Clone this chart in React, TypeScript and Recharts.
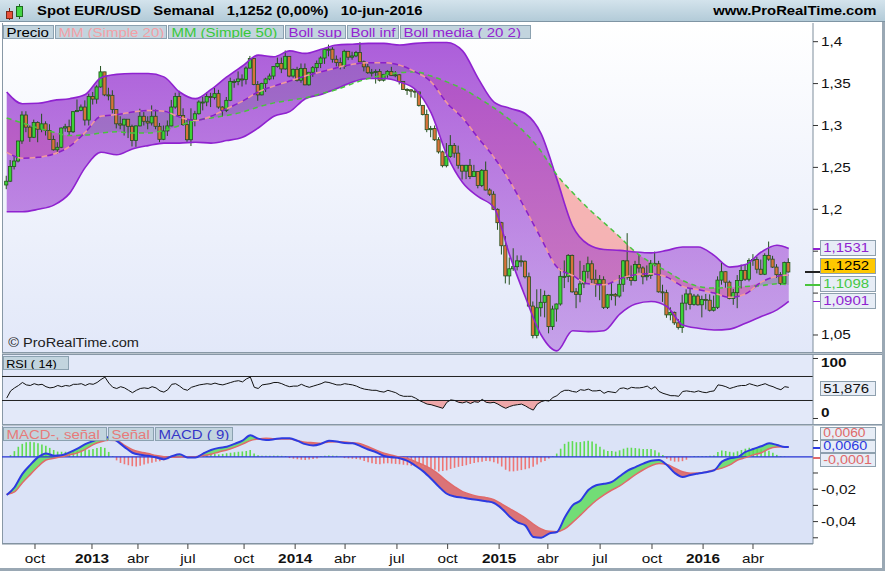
import React from "react";
import { Area, Bar, Cell, ComposedChart, Line, ReferenceLine, XAxis, YAxis } from "recharts";

const FONT = "'Liberation Sans', Arial, Helvetica, sans-serif";

// weekly candles, week 0 = 17-ago-2012 ... week 199 = 10-jun-2016
const opens = [
  1.2290, 1.2335, 1.2510, 1.2576, 1.2815, 1.3125, 1.2980, 1.2859, 1.3036, 1.2955,
  1.3020, 1.2940, 1.2834, 1.2710, 1.2740, 1.2970, 1.2985, 1.2925, 1.3165, 1.3180,
  1.3220, 1.3065, 1.3345, 1.3315, 1.3460, 1.3640, 1.3365, 1.3360, 1.3190, 1.3020,
  1.3005, 1.3075, 1.2990, 1.2820, 1.2995, 1.3110, 1.3050, 1.3030, 1.3110, 1.2990,
  1.2835, 1.2935, 1.2995, 1.3220, 1.3345, 1.3120, 1.3010, 1.2830, 1.3070, 1.3140,
  1.3280, 1.3280, 1.3345, 1.3335, 1.3380, 1.3220, 1.3180, 1.3300, 1.3525, 1.3525,
  1.3555, 1.3550, 1.3685, 1.3800, 1.3490, 1.3365, 1.3500, 1.3555, 1.3590, 1.3705,
  1.3740, 1.3675, 1.3825, 1.3590, 1.3670, 1.3540, 1.3680, 1.3485, 1.3635, 1.3690,
  1.3740, 1.3805, 1.3910, 1.3910, 1.3790, 1.3750, 1.3705, 1.3885, 1.3815, 1.3830,
  1.3870, 1.3760, 1.3700, 1.3630, 1.3635, 1.3645, 1.3540, 1.3610, 1.3645, 1.3595,
  1.3605, 1.3525, 1.3430, 1.3425, 1.3410, 1.3400, 1.3240, 1.3130, 1.2950, 1.2965,
  1.2830, 1.2685, 1.2520, 1.2630, 1.2760, 1.2670, 1.2525, 1.2455, 1.2525, 1.2390,
  1.2450, 1.2285, 1.2465, 1.2230, 1.2180, 1.2000, 1.1840, 1.1565, 1.1205, 1.1290,
  1.1315, 1.1385, 1.1380, 1.1195, 1.0845, 1.0495, 1.0825, 1.0890, 1.0970, 1.0600,
  1.0810, 1.0870, 1.1200, 1.1200, 1.1450, 1.1015, 1.0985, 1.1110, 1.1260, 1.1350,
  1.1165, 1.1110, 1.1160, 1.0830, 1.0980, 1.0985, 1.0965, 1.1105, 1.1385, 1.1185,
  1.1150, 1.1340, 1.1300, 1.1195, 1.1210, 1.1355, 1.1350, 1.1015, 1.1005, 1.0740,
  1.0770, 1.0645, 1.0590, 1.0880, 1.0990, 1.0865, 1.0965, 1.0860, 1.0925, 1.0915,
  1.0795, 1.0830, 1.1155, 1.1255, 1.1130, 1.0935, 1.1005, 1.1150, 1.1270, 1.1165,
  1.1390, 1.1400, 1.1285, 1.1225, 1.1450, 1.1405, 1.1310, 1.1220, 1.1115, 1.1365,
];
const highs = [
  1.2400, 1.2588, 1.2637, 1.2817, 1.3170, 1.3170, 1.3000, 1.3070, 1.3050, 1.3140,
  1.3050, 1.3015, 1.2880, 1.2800, 1.2975, 1.3020, 1.3070, 1.3170, 1.3310, 1.3250,
  1.3300, 1.3380, 1.3400, 1.3480, 1.3710, 1.3640, 1.3450, 1.3420, 1.3190, 1.3110,
  1.3080, 1.3075, 1.3010, 1.3000, 1.3200, 1.3160, 1.3110, 1.3240, 1.3190, 1.3030,
  1.3000, 1.3060, 1.3305, 1.3390, 1.3415, 1.3205, 1.3080, 1.3205, 1.3175, 1.3300,
  1.3345, 1.3400, 1.3390, 1.3450, 1.3425, 1.3230, 1.3340, 1.3570, 1.3550, 1.3645,
  1.3610, 1.3705, 1.3830, 1.3800, 1.3530, 1.3510, 1.3570, 1.3620, 1.3710, 1.3810,
  1.3810, 1.3895, 1.3825, 1.3680, 1.3700, 1.3740, 1.3740, 1.3640, 1.3710, 1.3775,
  1.3825, 1.3920, 1.3965, 1.3935, 1.3835, 1.3810, 1.3905, 1.3890, 1.3880, 1.3890,
  1.3995, 1.3775, 1.3735, 1.3675, 1.3670, 1.3675, 1.3615, 1.3660, 1.3700, 1.3650,
  1.3615, 1.3530, 1.3445, 1.3435, 1.3435, 1.3400, 1.3245, 1.3190, 1.2995, 1.3000,
  1.2860, 1.2700, 1.2790, 1.2885, 1.2790, 1.2760, 1.2530, 1.2530, 1.2600, 1.2530,
  1.2455, 1.2480, 1.2570, 1.2250, 1.2215, 1.2010, 1.1850, 1.1680, 1.1425, 1.1535,
  1.1450, 1.1450, 1.1390, 1.1245, 1.0900, 1.1045, 1.1050, 1.1030, 1.0980, 1.0850,
  1.0875, 1.1290, 1.1390, 1.1465, 1.1460, 1.1060, 1.1385, 1.1335, 1.1435, 1.1390,
  1.1280, 1.1215, 1.1200, 1.0990, 1.1130, 1.1000, 1.1215, 1.1395, 1.1715, 1.1330,
  1.1385, 1.1460, 1.1320, 1.1330, 1.1395, 1.1495, 1.1385, 1.1100, 1.1040, 1.0830,
  1.0780, 1.0690, 1.0980, 1.1045, 1.1060, 1.0990, 1.0990, 1.0970, 1.0990, 1.0985,
  1.0970, 1.1200, 1.1375, 1.1260, 1.1150, 1.1050, 1.1215, 1.1340, 1.1340, 1.1415,
  1.1465, 1.1435, 1.1400, 1.1475, 1.1615, 1.1445, 1.1345, 1.1250, 1.1375, 1.1415,
];
const lows = [
  1.2240, 1.2325, 1.2475, 1.2560, 1.2780, 1.2920, 1.2805, 1.2850, 1.2800, 1.2920,
  1.2880, 1.2830, 1.2700, 1.2660, 1.2730, 1.2925, 1.2880, 1.2910, 1.3160, 1.3170,
  1.3000, 1.3000, 1.3250, 1.3260, 1.3450, 1.3350, 1.3300, 1.3145, 1.2965, 1.2955,
  1.2880, 1.2850, 1.2750, 1.2745, 1.2990, 1.3000, 1.2955, 1.3000, 1.2955, 1.2800,
  1.2825, 1.2875, 1.2990, 1.3200, 1.3115, 1.2995, 1.2805, 1.2755, 1.2990, 1.3130,
  1.3180, 1.3230, 1.3220, 1.3310, 1.3200, 1.3105, 1.3160, 1.3290, 1.3450, 1.3480,
  1.3465, 1.3490, 1.3680, 1.3480, 1.3295, 1.3360, 1.3400, 1.3540, 1.3550, 1.3690,
  1.3625, 1.3665, 1.3575, 1.3570, 1.3525, 1.3510, 1.3480, 1.3475, 1.3580, 1.3640,
  1.3685, 1.3735, 1.3825, 1.3750, 1.3705, 1.3670, 1.3675, 1.3780, 1.3785, 1.3815,
  1.3755, 1.3645, 1.3615, 1.3585, 1.3500, 1.3525, 1.3525, 1.3570, 1.3590, 1.3575,
  1.3490, 1.3425, 1.3365, 1.3335, 1.3330, 1.3225, 1.3120, 1.2920, 1.2860, 1.2815,
  1.2665, 1.2500, 1.2500, 1.2615, 1.2615, 1.2485, 1.2355, 1.2360, 1.2360, 1.2385,
  1.2250, 1.2265, 1.2225, 1.2160, 1.1990, 1.1755, 1.1460, 1.1115, 1.1100, 1.1265,
  1.1270, 1.1315, 1.1175, 1.0835, 1.0460, 1.0460, 1.0720, 1.0710, 1.0520, 1.0560,
  1.0660, 1.0850, 1.1060, 1.1130, 1.1005, 1.0820, 1.0890, 1.1060, 1.1175, 1.1120,
  1.0955, 1.0915, 1.0810, 1.0810, 1.0915, 1.0850, 1.0945, 1.1015, 1.1160, 1.1090,
  1.1140, 1.1245, 1.1105, 1.1150, 1.1170, 1.1320, 1.1005, 1.0895, 1.0705, 1.0675,
  1.0620, 1.0565, 1.0525, 1.0795, 1.0805, 1.0850, 1.0850, 1.0710, 1.0805, 1.0780,
  1.0780, 1.0810, 1.1100, 1.1065, 1.0925, 1.0860, 1.0820, 1.1055, 1.1145, 1.1140,
  1.1325, 1.1235, 1.1215, 1.1215, 1.1385, 1.1300, 1.1180, 1.1095, 1.1100, 1.1245,
];
const closes = [
  1.2335, 1.2510, 1.2576, 1.2815, 1.3125, 1.2980, 1.2859, 1.3036, 1.2955, 1.3020,
  1.2940, 1.2834, 1.2710, 1.2740, 1.2970, 1.2985, 1.2925, 1.3165, 1.3180, 1.3220,
  1.3065, 1.3345, 1.3315, 1.3460, 1.3640, 1.3365, 1.3360, 1.3190, 1.3020, 1.3005,
  1.3075, 1.2990, 1.2820, 1.2995, 1.3110, 1.3050, 1.3030, 1.3110, 1.2990, 1.2835,
  1.2935, 1.2995, 1.3220, 1.3345, 1.3120, 1.3010, 1.2830, 1.3070, 1.3140, 1.3280,
  1.3280, 1.3345, 1.3335, 1.3380, 1.3220, 1.3180, 1.3300, 1.3525, 1.3525, 1.3555,
  1.3550, 1.3685, 1.3800, 1.3490, 1.3365, 1.3500, 1.3555, 1.3590, 1.3705, 1.3740,
  1.3675, 1.3825, 1.3590, 1.3670, 1.3540, 1.3680, 1.3485, 1.3635, 1.3690, 1.3740,
  1.3805, 1.3910, 1.3910, 1.3790, 1.3750, 1.3705, 1.3885, 1.3815, 1.3830, 1.3870,
  1.3760, 1.3700, 1.3630, 1.3635, 1.3645, 1.3540, 1.3610, 1.3645, 1.3595, 1.3605,
  1.3525, 1.3430, 1.3425, 1.3410, 1.3400, 1.3240, 1.3130, 1.2950, 1.2965, 1.2830,
  1.2685, 1.2520, 1.2630, 1.2760, 1.2670, 1.2525, 1.2455, 1.2525, 1.2390, 1.2450,
  1.2285, 1.2465, 1.2230, 1.2180, 1.2000, 1.1840, 1.1565, 1.1205, 1.1290, 1.1315,
  1.1385, 1.1380, 1.1195, 1.0845, 1.0495, 1.0825, 1.0890, 1.0970, 1.0600, 1.0810,
  1.0870, 1.1200, 1.1200, 1.1450, 1.1015, 1.0985, 1.1110, 1.1260, 1.1350, 1.1165,
  1.1110, 1.1160, 1.0830, 1.0980, 1.0985, 1.0965, 1.1105, 1.1385, 1.1185, 1.1150,
  1.1340, 1.1300, 1.1195, 1.1210, 1.1355, 1.1350, 1.1015, 1.1005, 1.0740, 1.0770,
  1.0645, 1.0590, 1.0880, 1.0990, 1.0865, 1.0965, 1.0860, 1.0925, 1.0915, 1.0795,
  1.0830, 1.1155, 1.1255, 1.1130, 1.0935, 1.1005, 1.1150, 1.1270, 1.1165, 1.1390,
  1.1400, 1.1285, 1.1225, 1.1450, 1.1405, 1.1310, 1.1220, 1.1115, 1.1365, 1.1252,
];

// Bollinger (20,2) and moving averages, read every 4 weeks
const bandWeeks = [
  0, 4, 8, 12, 16, 20, 24, 28, 32, 36, 40, 44, 48, 52, 56, 60, 64, 68, 72, 76,
  80, 84, 88, 92, 96, 100, 104, 108, 112, 116, 120, 124, 128, 132, 136, 140, 144, 148, 152, 156,
  160, 164, 168, 172, 176, 180, 184, 188, 192, 196, 199,
];
const bollUpper = [
  1.340, 1.326, 1.3265, 1.330, 1.332, 1.337, 1.357, 1.361, 1.362, 1.362, 1.358, 1.340, 1.332, 1.343, 1.358, 1.371, 1.384, 1.382, 1.389, 1.386,
  1.391, 1.396, 1.397, 1.398, 1.398, 1.396, 1.398, 1.399, 1.399, 1.389, 1.356, 1.328, 1.3205, 1.314, 1.290, 1.236, 1.180, 1.158, 1.152, 1.151,
  1.149, 1.148, 1.151, 1.155, 1.155, 1.145, 1.131, 1.134, 1.149, 1.157, 1.1531,
];
const bollLower = [
  1.197, 1.197, 1.200, 1.205, 1.219, 1.250, 1.268, 1.265, 1.272, 1.276, 1.279, 1.279, 1.280, 1.279, 1.282, 1.286, 1.297, 1.311, 1.3165, 1.332,
  1.337, 1.344, 1.352, 1.356, 1.356, 1.352, 1.343, 1.315, 1.265, 1.232, 1.215, 1.202, 1.145, 1.095, 1.050, 1.031, 1.055, 1.054, 1.055, 1.075,
  1.087, 1.090, 1.084, 1.062, 1.058, 1.056, 1.057, 1.064, 1.072, 1.080, 1.0901,
];
const ma20 = [
  1.268, 1.261, 1.262, 1.266, 1.275, 1.292, 1.311, 1.313, 1.316, 1.318, 1.317, 1.310, 1.306, 1.311, 1.320, 1.329, 1.340, 1.347, 1.353, 1.359,
  1.364, 1.369, 1.373, 1.375, 1.375, 1.372, 1.364, 1.352, 1.327, 1.309, 1.285, 1.262, 1.2335, 1.200, 1.165, 1.131, 1.121, 1.111, 1.110, 1.117,
  1.122, 1.123, 1.119, 1.108, 1.104, 1.100, 1.095, 1.099, 1.113, 1.120, 1.1216,
];
const ma50 = [
  1.309, 1.303, 1.297, 1.292, 1.288, 1.2885, 1.291, 1.2925, 1.291, 1.291, 1.294, 1.300, 1.306, 1.309, 1.312, 1.316, 1.322, 1.327, 1.330, 1.333,
  1.338, 1.343, 1.350, 1.356, 1.360, 1.363, 1.364, 1.359, 1.352, 1.344, 1.333, 1.321, 1.307, 1.291, 1.269, 1.241, 1.220, 1.201, 1.184, 1.167,
  1.149, 1.136, 1.126, 1.115, 1.108, 1.106, 1.107, 1.108, 1.109, 1.111, 1.1098,
];

// RSI (14), one value per week
const rsiValues = [
  34, 46, 51, 55, 60, 56, 55, 58, 56, 57, 53, 51, 52, 55, 53, 55, 54, 57, 57, 58,
  55, 58, 57, 60, 65, 69, 59, 52, 50, 53, 51, 47, 43, 47, 50, 51, 50, 53, 51, 46,
  44, 48, 57, 58, 54, 49, 47, 52, 54, 56, 57, 58, 57, 59, 57, 56, 58, 60, 62, 63,
  61, 66, 69, 52, 50, 56, 57, 58, 60, 60, 58, 55, 53, 54, 54, 57, 54, 52, 54, 56,
  58, 61, 60, 58, 56, 56, 58, 57, 56, 54, 51, 49, 48, 47, 47, 45, 44, 47, 45, 43,
  39, 37, 37, 37, 34, 30, 27, 24, 23, 21, 19, 17, 27, 31, 30, 27, 26, 28, 25, 28,
  27, 32, 27, 26, 27, 24, 20, 17, 20, 22, 23, 24, 21, 17, 14, 24, 28, 30, 29, 35,
  38, 44, 47, 47, 45, 44, 48, 47, 49, 46, 46, 47, 42, 45, 44, 43, 50, 51, 49, 52,
  51, 51, 52, 54, 49, 53, 45, 42, 40, 38, 38, 37, 45, 46, 45, 44, 46, 44, 43, 45,
  46, 56, 55, 53, 50, 52, 54, 55, 55, 58, 56, 54, 56, 58, 55, 53, 50, 48, 53, 51.876,
];

// MACD and signal, read every 2 weeks
const macdWeeks = [
  0, 2, 4, 6, 8, 10, 12, 14, 16, 18, 20, 22, 24, 26, 28, 30, 32, 34, 36, 38,
  40, 42, 44, 46, 48, 50, 52, 54, 56, 58, 60, 62, 64, 66, 68, 70, 72, 74, 76, 78,
  80, 82, 84, 86, 88, 90, 92, 94, 96, 98, 100, 102, 104, 106, 108, 110, 112, 114, 116, 118,
  120, 122, 124, 126, 128, 130, 132, 134, 136, 138, 140, 142, 144, 146, 148, 150, 152, 154, 156, 158,
  160, 162, 164, 166, 168, 170, 172, 174, 176, 178, 180, 182, 184, 186, 188, 190, 192, 194, 196, 198, 199,
];
const macdLine = [
  -0.0236, -0.0188, -0.0105, -0.0050, -0.0002, 0.0021, 0.0007, 0.0010, 0.0027, 0.0050,
  0.0078, 0.0097, 0.0115, 0.0120, 0.0098, 0.0060, 0.0025, 0.0012, 0.0006, -0.0004,
  -0.0015, 0.0003, 0.0015, -0.0004, -0.0005, 0.0020, 0.0042, 0.0055, 0.0062, 0.0080,
  0.0100, 0.0133, 0.0112, 0.0104, 0.0108, 0.0115, 0.0114, 0.0098, 0.0078, 0.0070,
  0.0080, 0.0099, 0.0095, 0.0085, 0.0083, 0.0066, 0.0045, 0.0028, 0.0005, -0.0003,
  -0.0009, -0.0025, -0.0055, -0.0090, -0.0135, -0.0185, -0.0228, -0.0245, -0.0252, -0.0260,
  -0.0266, -0.0274, -0.0285, -0.0320, -0.0370, -0.0405, -0.0425, -0.0495, -0.0500, -0.0474,
  -0.0464, -0.0375, -0.0300, -0.0270, -0.0205, -0.0176, -0.0167, -0.0155, -0.0120, -0.0085,
  -0.0064, -0.0042, -0.0024, -0.0020, -0.0051, -0.0100, -0.0125, -0.0112, -0.0103, -0.0095,
  -0.0084, -0.0030, -0.0009, -0.0002, 0.0030, 0.0048, 0.0065, 0.0083, 0.0073, 0.0060, 0.0060,
];
const signalLine = [
  -0.0230, -0.0216, -0.0160, -0.0110, -0.0060, -0.0020, -0.0009, 0.0000, 0.0012, 0.0024,
  0.0046, 0.0075, 0.0093, 0.0102, 0.0100, 0.0070, 0.0044, 0.0030, 0.0020, 0.0008,
  0.0001, -0.0003, -0.0001, 0.0001, 0.0001, 0.0008, 0.0016, 0.0030, 0.0042, 0.0058,
  0.0078, 0.0100, 0.0110, 0.0114, 0.0111, 0.0110, 0.0110, 0.0100, 0.0090, 0.0087,
  0.0084, 0.0092, 0.0093, 0.0091, 0.0086, 0.0080, 0.0062, 0.0040, 0.0022, 0.0010,
  -0.0003, -0.0010, -0.0030, -0.0050, -0.0075, -0.0110, -0.0150, -0.0185, -0.0215, -0.0232,
  -0.0245, -0.0252, -0.0265, -0.0292, -0.0320, -0.0348, -0.0378, -0.0415, -0.0445, -0.0460,
  -0.0462, -0.0445, -0.0405, -0.0360, -0.0313, -0.0270, -0.0235, -0.0205, -0.0180, -0.0145,
  -0.0110, -0.0080, -0.0055, -0.0042, -0.0048, -0.0070, -0.0092, -0.0101, -0.0100, -0.0093,
  -0.0080, -0.0070, -0.0050, -0.0020, -0.0005, 0.0012, 0.0025, 0.0050, 0.0060, 0.0062, 0.0060,
];
// "MACD-, señal" histogram, one bar per week
const histogram = [
  0.0000, 0.0010, 0.0035, 0.0062, 0.0080, 0.0090, 0.0093, 0.0090, 0.0083, 0.0076,
  0.0068, 0.0055, 0.0042, 0.0032, 0.0031, 0.0031, 0.0031, 0.0034, 0.0036, 0.0040,
  0.0042, 0.0044, 0.0048, 0.0054, 0.0060, 0.0055, 0.0030, 0.0005, -0.0022, -0.0038,
  -0.0046, -0.0052, -0.0058, -0.0060, -0.0055, -0.0047, -0.0042, -0.0036, -0.0031, -0.0027,
  -0.0022, -0.0015, -0.0004, 0.0003, 0.0005, -0.0003, -0.0004, -0.0002, 0.0004, 0.0007,
  0.0009, 0.0012, 0.0020, 0.0019, 0.0015, 0.0018, 0.0022, 0.0025, 0.0028, 0.0031,
  0.0033, 0.0036, 0.0042, 0.0020, 0.0009, 0.0007, 0.0007, 0.0006, 0.0007, 0.0007,
  0.0006, 0.0005, -0.0008, -0.0012, -0.0015, -0.0018, -0.0020, -0.0017, -0.0013, -0.0010,
  0.0005, 0.0007, 0.0008, 0.0007, 0.0006, 0.0002, -0.0008, -0.0010, -0.0012, -0.0014,
  -0.0017, -0.0026, -0.0033, -0.0040, -0.0044, -0.0046, -0.0042, -0.0040, -0.0042, -0.0044,
  -0.0046, -0.0049, -0.0052, -0.0055, -0.0058, -0.0061, -0.0064, -0.0067, -0.0072, -0.0080,
  -0.0090, -0.0088, -0.0084, -0.0075, -0.0068, -0.0062, -0.0057, -0.0052, -0.0044, -0.0038,
  -0.0034, -0.0030, -0.0026, -0.0028, -0.0033, -0.0042, -0.0060, -0.0080, -0.0090, -0.0090,
  -0.0086, -0.0082, -0.0077, -0.0071, -0.0061, -0.0048, -0.0034, -0.0026, -0.0010, 0.0004,
  0.0020, 0.0050, 0.0080, 0.0093, 0.0097, 0.0090, 0.0091, 0.0096, 0.0099, 0.0094,
  0.0080, 0.0062, 0.0045, 0.0036, 0.0036, 0.0032, 0.0040, 0.0050, 0.0056, 0.0056,
  0.0054, 0.0051, 0.0048, 0.0048, 0.0048, 0.0040, 0.0026, 0.0011, -0.0012, -0.0024,
  -0.0030, -0.0030, -0.0027, -0.0018, -0.0002, 0.0005, 0.0005, 0.0005, 0.0005, 0.0006,
  0.0008, 0.0030, 0.0039, 0.0036, 0.0031, 0.0027, 0.0034, 0.0042, 0.0050, 0.0056,
  0.0053, 0.0049, 0.0046, 0.0044, 0.0037, 0.0025, 0.0012, 0.0005, 0.0003, -0.0001,
];

// time axis (tick position in weeks)
const tickWeeks = [7.2, 21.7, 33.4, 46.1, 60.4, 73.4, 86.1, 99.3, 112.2, 125.3, 137.7, 151.0, 164.2, 177.2, 189.9];
const tickLabels = ["oct", "2013", "abr", "jul", "oct", "2014", "abr", "jul", "oct", "2015", "abr", "jul", "oct", "2016", "abr"];

const priceTicks = [1.05, 1.1, 1.15, 1.2, 1.25, 1.3, 1.35, 1.4];
const macdTicks = [0.01, -0.01, -0.02, -0.03, -0.04, -0.05];

const X_DOMAIN = [-1.196, 205.17];
const PRICE_DOMAIN = [1.0297, 1.4223];
const RSI_DOMAIN = [-9.17, 105.83];
const MACD_DOMAIN = [-0.05383, 0.01901];

const candleRows = closes.map((c, i) => ({ week: i, open: opens[i], high: highs[i], low: lows[i], close: c }));
const bandRows = bandWeeks.map((w, k) => ({
  week: w,
  upper: bollUpper[k],
  lower: bollLower[k],
  mid: ma20[k],
  slow: ma50[k],
  band: [bollLower[k], bollUpper[k]],
  pink: ma50[k] > ma20[k] ? [ma20[k], ma50[k]] : [ma20[k], ma20[k]],
  green: ma20[k] > ma50[k] ? [ma50[k], ma20[k]] : [ma20[k], ma20[k]],
}));
const rsiRows = rsiValues.map((v, i) => ({ week: i, rsi: v, under: v < 30 ? [v, 30] : [30, 30] }));
const macdRows = macdWeeks.map((w, k) => {
  const m = macdLine[k];
  const s = signalLine[k];
  return { week: w, macd: m, signal: s, up: m > s ? [s, m] : [s, s], down: m < s ? [m, s] : [s, s] };
});
const histRows = histogram.map((h, i) => ({ week: i, hist: h }));

const comma = (v: number) => String(v).replace(".", ",");

const Candle = (props: any) => {
  const { x, y, width, height, payload } = props;
  if (!payload || height == null) return null;
  const { open, close, high, low } = payload;
  const top = Math.min(y, y + height);
  const h = Math.abs(height);
  const k = high - low > 0 ? h / (high - low) : 0;
  const yO = top + (high - open) * k;
  const yC = top + (high - close) * k;
  const cx = x + width / 2;
  const up = close >= open;
  return (
    <g>
      <line x1={cx} x2={cx} y1={top} y2={top + h} stroke="#24501e" strokeWidth={1} />
      <rect
        x={cx - 1.6}
        y={Math.min(yO, yC)}
        width={3.2}
        height={Math.max(1, Math.abs(yC - yO))}
        fill={up ? "#3ad436" : "#d8723a"}
        stroke="#24501e"
        strokeWidth={0.8}
      />
    </g>
  );
};

const AxisText = ({ x, y, text, bold, anchor }: any) => (
  <g transform={`translate(${x},${y}) scale(1.18,1)`}>
    <text x={0} y={0} textAnchor={anchor || "start"} fontFamily={FONT} fontSize={13} fontWeight={bold ? 700 : 400} fill="#111">
      {text}
    </text>
  </g>
);

// 1,1 and 1,15 sit behind the last-value boxes
const PriceTick = (props: any) => {
  const { x, y, payload } = props;
  if (payload.value === 1.1 || payload.value === 1.15) return null;
  return <AxisText x={x + 1} y={y + 4.5} text={comma(payload.value)} />;
};

const RsiTick = (props: any) => {
  const { x, y, payload } = props;
  const dy = payload.value === 100 ? 9 : -1;
  return <AxisText x={x + 1} y={y + dy} text={String(payload.value)} bold />;
};

const MacdTick = (props: any) => {
  const { x, y, payload } = props;
  if (payload.value !== -0.02 && payload.value !== -0.04) return null;
  return <AxisText x={x + 1} y={y + 4.5} text={comma(payload.value)} />;
};

const TimeTick = (props: any) => {
  const { x, y, payload } = props;
  const idx = tickWeeks.indexOf(payload.value);
  const label = tickLabels[idx] || "";
  const bold = /^\d+$/.test(label);
  return <AxisText x={x} y={y + 12} text={label} bold={bold} anchor="middle" />;
};

const box = (extra: React.CSSProperties): React.CSSProperties => ({
  position: "absolute",
  height: 14,
  lineHeight: "14px",
  background: "#c2d4de",
  border: "1px solid #8ba1b0",
  fontFamily: FONT,
  fontSize: 12.5,
  whiteSpace: "nowrap",
  overflow: "hidden",
  boxSizing: "border-box",
  ...extra,
});

const Stretch = ({ children, s = 1.2 }: any) => (
  <span style={{ display: "inline-block", transform: `scaleX(${s})`, transformOrigin: "left center", paddingLeft: 2 }}>
    {children}
  </span>
);

const ValueBox = ({ top, text, color, bg, h = 16, fs = 13 }: any) => (
  <div
    style={{
      position: "absolute",
      left: 820,
      top,
      width: 56,
      height: h,
      lineHeight: `${h - 2}px`,
      background: bg || "#e7edf6",
      border: "1px solid #8ea0ae",
      boxSizing: "border-box",
      fontFamily: FONT,
      fontSize: fs,
      color,
      overflow: "hidden",
      whiteSpace: "nowrap",
    }}
  >
    <Stretch s={1.15}>{text}</Stretch>
  </div>
);

const stub = (top: number, color: string, left = 813, width = 8): React.CSSProperties => ({
  position: "absolute",
  left,
  top,
  width,
  height: 1.5,
  background: color,
});

export default function App() {
  return (
    <div style={{ position: "absolute", left: 0, top: 0, width: 885, height: 571, background: "#fff", overflow: "hidden", fontFamily: FONT }}>
      {/* header */}
      <div
        style={{
          position: "absolute", left: 0, top: 0, width: 885, height: 22,
          background: "linear-gradient(#d3e3ec, #b3cbd8)", borderBottom: "1px solid #7f95a4", boxSizing: "border-box",
        }}
      />
      <svg style={{ position: "absolute", left: 5, top: 4 }} width={22} height={18}>
        <line x1={4.5} x2={4.5} y1={4} y2={16} stroke="#7a2a1a" />
        <rect x={1.5} y={7.5} width={6} height={7} fill="#e8503a" stroke="#7a2a1a" />
        <line x1={14.5} x2={14.5} y1={0} y2={15} stroke="#1f6a1f" />
        <rect x={11.5} y={2.5} width={6} height={10} fill="#44d444" stroke="#1f6a1f" />
      </svg>
      <div style={{ position: "absolute", left: 37, top: 3, fontSize: 13.5, fontWeight: 700, whiteSpace: "nowrap" }}>
        <span style={{ display: "inline-block", transform: "scaleX(1.1)", transformOrigin: "left center" }}>
          Spot EUR/USD&nbsp;&nbsp;&nbsp;Semanal&nbsp;&nbsp;&nbsp;1,1252 (0,00%)&nbsp;&nbsp;&nbsp;10-jun-2016
        </span>
      </div>
      <div style={{ position: "absolute", right: 8, top: 3, fontSize: 13.5, fontWeight: 700, whiteSpace: "nowrap" }}>
        <span style={{ display: "inline-block", transform: "scaleX(1.1)", transformOrigin: "right center" }}>www.ProRealTime.com</span>
      </div>

      {/* panel backgrounds */}
      <div style={{ position: "absolute", left: 2, top: 23, width: 811, height: 329, background: "linear-gradient(#ffffff, #e2e8f9)", borderLeft: "1px solid #8898a6", boxSizing: "border-box" }} />
      <div style={{ position: "absolute", left: 2, top: 352, width: 880, height: 3, background: "#b9c3cc", borderTop: "1px solid #8898a6", borderBottom: "1px solid #8898a6", boxSizing: "border-box" }} />
      <div style={{ position: "absolute", left: 2, top: 355, width: 811, height: 69, background: "#e3e9f9", borderLeft: "1px solid #8898a6", boxSizing: "border-box" }} />
      <div style={{ position: "absolute", left: 2, top: 424, width: 880, height: 2, background: "#b9c3cc", borderTop: "1px solid #8898a6", boxSizing: "border-box" }} />
      <div style={{ position: "absolute", left: 2, top: 426, width: 811, height: 118, background: "#dbe3f7", borderLeft: "1px solid #8898a6", borderBottom: "1px solid #8898a6", boxSizing: "border-box" }} />
      <div style={{ position: "absolute", left: 882, top: 22, width: 3, height: 549, background: "#9aa8b4" }} />
      <div style={{ position: "absolute", left: 0, top: 568, width: 885, height: 3, background: "#9aa8b4" }} />

      {/* price panel */}
      <div style={{ position: "absolute", left: 2, top: 23 }}>
        <ComposedChart width={880} height={329} data={candleRows} margin={{ top: 0, right: 0, bottom: 0, left: 0 }}>
          <defs>
            <linearGradient id="bandGrad" gradientUnits="userSpaceOnUse" x1={0} y1={0} x2={0} y2={329}>
              <stop offset="0" stopColor="#9530cf" stopOpacity={0.8} />
              <stop offset="1" stopColor="#9530cf" stopOpacity={0.38} />
            </linearGradient>
          </defs>
          <XAxis type="number" dataKey="week" domain={X_DOMAIN} allowDataOverflow hide />
          <YAxis
            orientation="right" width={69} domain={PRICE_DOMAIN} allowDataOverflow ticks={priceTicks} interval={0}
            tick={<PriceTick />} tickSize={5} tickLine={{ stroke: "#333" }} axisLine={{ stroke: "#7f8e9c" }}
          />
          <Area data={bandRows} dataKey="pink" type="monotone" stroke="none" fill="#ff6e64" fillOpacity={0.47} isAnimationActive={false} activeDot={false} />
          <Area data={bandRows} dataKey="green" type="monotone" stroke="none" fill="#64e65a" fillOpacity={0.45} isAnimationActive={false} activeDot={false} />
          <Area data={bandRows} dataKey="band" type="monotone" stroke="none" fill="url(#bandGrad)" fillOpacity={1} isAnimationActive={false} activeDot={false} />
          <Line data={bandRows} dataKey="upper" type="monotone" stroke="#8f22d0" strokeWidth={1.6} dot={false} isAnimationActive={false} activeDot={false} />
          <Line data={bandRows} dataKey="lower" type="monotone" stroke="#8f22d0" strokeWidth={1.6} dot={false} isAnimationActive={false} activeDot={false} />
          <Line data={bandRows} dataKey="slow" type="monotone" stroke="#49c43d" strokeWidth={1.5} strokeDasharray="5 4" dot={false} isAnimationActive={false} activeDot={false} />
          <Line data={bandRows} dataKey="mid" type="monotone" stroke="#f29a9a" strokeWidth={1.5} strokeDasharray="6 6" dot={false} isAnimationActive={false} activeDot={false} />
          <Line data={bandRows} dataKey="mid" type="monotone" stroke="#8a20c8" strokeWidth={1.5} strokeDasharray="6 6" strokeDashoffset={6} dot={false} isAnimationActive={false} activeDot={false} />
          <Bar dataKey={(d: any) => [d.low, d.high]} barSize={3} shape={<Candle />} isAnimationActive={false} />
        </ComposedChart>
      </div>

      {/* RSI panel */}
      <div style={{ position: "absolute", left: 2, top: 355 }}>
        <ComposedChart width={880} height={69} data={rsiRows} margin={{ top: 0, right: 0, bottom: 0, left: 0 }}>
          <XAxis type="number" dataKey="week" domain={X_DOMAIN} allowDataOverflow hide />
          <YAxis
            orientation="right" width={69} domain={RSI_DOMAIN} allowDataOverflow ticks={[0, 100]} interval={0}
            tick={<RsiTick />} tickSize={5} tickLine={{ stroke: "#333" }} axisLine={{ stroke: "#7f8e9c" }}
          />
          <Area dataKey="under" type="linear" stroke="none" fill="#eea0a0" fillOpacity={0.9} isAnimationActive={false} activeDot={false} />
          <ReferenceLine y={70} stroke="#222" strokeWidth={1} />
          <ReferenceLine y={30} stroke="#222" strokeWidth={1} />
          <Line dataKey="rsi" type="linear" stroke="#111" strokeWidth={1} dot={false} isAnimationActive={false} activeDot={false} />
        </ComposedChart>
      </div>

      {/* MACD panel */}
      <div style={{ position: "absolute", left: 2, top: 426 }}>
        <ComposedChart width={880} height={140} data={histRows} margin={{ top: 0, right: 0, bottom: 0, left: 0 }}>
          <XAxis
            type="number" dataKey="week" domain={X_DOMAIN} allowDataOverflow ticks={tickWeeks} interval={0}
            height={22} tick={<TimeTick />} tickSize={5} tickLine={{ stroke: "#444" }} axisLine={{ stroke: "#7f8e9c" }}
          />
          <YAxis
            orientation="right" width={69} domain={MACD_DOMAIN} allowDataOverflow ticks={macdTicks} interval={0}
            tick={<MacdTick />} tickSize={5} tickLine={{ stroke: "#333" }} axisLine={{ stroke: "#7f8e9c" }}
          />
          <Bar dataKey="hist" barSize={1.6} isAnimationActive={false}>
            {histRows.map((r, i) => (
              <Cell key={i} fill={r.hist >= 0 ? "#5fdc52" : "#ee7676"} />
            ))}
          </Bar>
          <ReferenceLine y={0} stroke="#2433d4" strokeWidth={1.2} />
          <Area data={macdRows} dataKey="up" type="monotone" stroke="none" fill="#5fdc5f" fillOpacity={0.85} isAnimationActive={false} activeDot={false} />
          <Area data={macdRows} dataKey="down" type="monotone" stroke="none" fill="#d95656" fillOpacity={0.8} isAnimationActive={false} activeDot={false} />
          <Line data={macdRows} dataKey="signal" type="monotone" stroke="#e06a6a" strokeWidth={1.5} dot={false} isAnimationActive={false} activeDot={false} />
          <Line data={macdRows} dataKey="macd" type="monotone" stroke="#2d3be0" strokeWidth={2} dot={false} isAnimationActive={false} activeDot={false} />
        </ComposedChart>
      </div>

      {/* legends */}
      <div style={box({ left: 3, top: 25, width: 51, color: "#000" })}><Stretch>Precio</Stretch></div>
      <div style={box({ left: 55, top: 25, width: 112, color: "#f3a0a6" })}><Stretch>MM (Simple 20)</Stretch></div>
      <div style={box({ left: 168, top: 25, width: 116, color: "#38c83a" })}><Stretch>MM (Simple 50)</Stretch></div>
      <div style={box({ left: 285, top: 25, width: 61, color: "#9422d2" })}><Stretch>Boll sup</Stretch></div>
      <div style={box({ left: 347, top: 25, width: 52, color: "#9422d2" })}><Stretch>Boll inf</Stretch></div>
      <div style={box({ left: 400, top: 25, width: 131, color: "#9422d2" })}><Stretch>Boll media ( 20 2)</Stretch></div>

      <div style={box({ left: 3, top: 356, width: 66, color: "#000", fontSize: 11.5 })}><Stretch s={1.1}>RSI ( 14)</Stretch></div>

      <div style={box({ left: 3, top: 427, width: 104, color: "#e77a7a" })}><Stretch>MACD-, señal</Stretch></div>
      <div style={box({ left: 108, top: 427, width: 46, color: "#e77a7a" })}><Stretch>Señal</Stretch></div>
      <div style={box({ left: 155, top: 427, width: 78, color: "#3535c8" })}><Stretch>MACD ( 9)</Stretch></div>

      <div style={{ position: "absolute", left: 6, top: 335, fontSize: 13, color: "#222", whiteSpace: "nowrap" }}>
        <Stretch s={1.12}>© ProRealTime.com</Stretch>
      </div>

      {/* last values */}
      <div style={stub(248, "#8f22d0")} />
      <div style={stub(271, "#222", 805, 16)} />
      <div style={stub(284, "#49c43d", 805, 16)} />
      <div style={stub(300.5, "#8f22d0")} />
      <ValueBox top={240} text="1,1531" color="#8f22d0" />
      <ValueBox top={258} text="1,1252" color="#000" bg="#ffc800" />
      <ValueBox top={276} text="1,1098" color="#44c844" />
      <ValueBox top={293} text="1,0901" color="#8f22d0" />

      <ValueBox top={381} text="51,876" color="#111" h={15} />

      <div style={stub(447, "#2d3be0")} />
      <div style={stub(457, "#e06a6a")} />
      <ValueBox top={427} text="0,0060" color="#e06a6a" h={13} fs={12} />
      <ValueBox top={440} text="0,0060" color="#2d3be0" h={13} fs={12.5} />
      <ValueBox top={453} text="-0,0001" color="#e06a6a" h={14} fs={12.5} />
    </div>
  );
}
